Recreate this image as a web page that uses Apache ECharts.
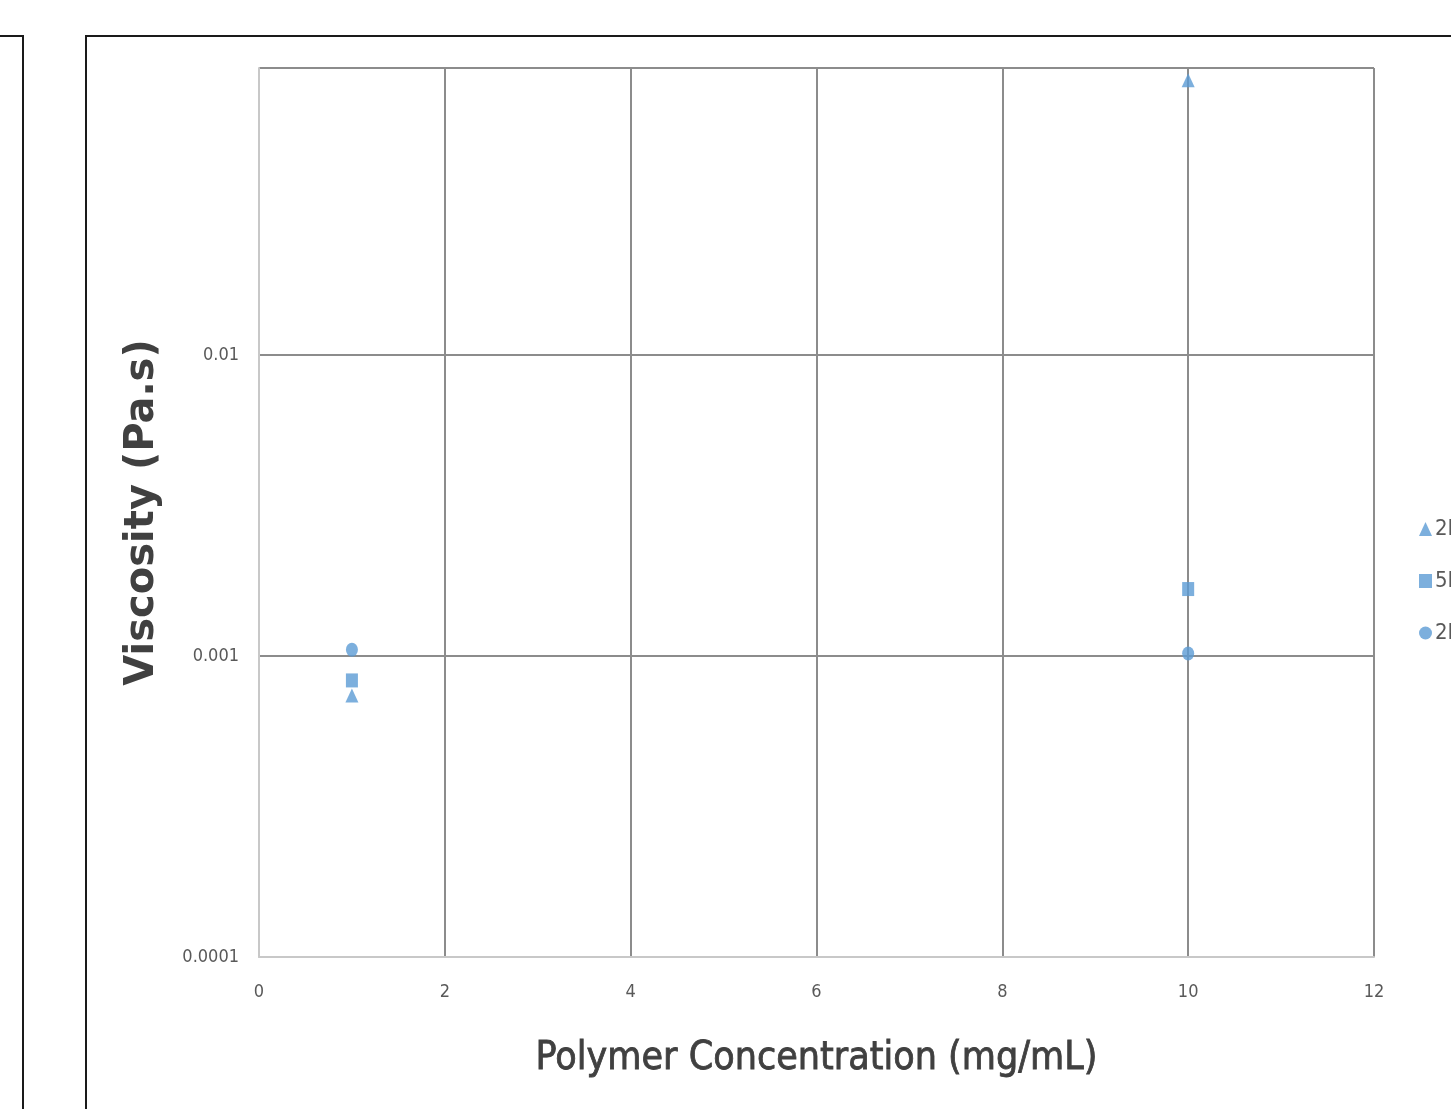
<!DOCTYPE html>
<html><head><meta charset="utf-8">
<script src="https://cdn.jsdelivr.net/npm/echarts@6/dist/echarts.min.js"></script>
<style>html,body{margin:0;padding:0;background:#fff}#c{width:1451px;height:1109px}</style>
</head><body><div id="c"></div>
<script>
const concentrations = [1, 10];
const seriesNames = ['2K PEG', '5K PEG', '2K PLA'];
const values2K = [0.00074, 0.082];
const values5K = [0.00083, 0.00167];
const values2Kb = [0.00105, 0.00102];
const xTicks = [0, 2, 4, 6, 8, 10, 12];
const yTickLabels = ['0.0001', '0.001', '0.01'];

const narrow = '"DejaVu Sans Condensed", "Liberation Sans Narrow", sans-serif';
const blue = '#5B9BD5';
const toPts = v => concentrations.map((c, i) => [c, v[i]]);

const chart = echarts.init(document.getElementById('c'), null, {renderer: 'canvas'});
chart.setOption({
  animation: false,
  backgroundColor: '#fff',
  grid: {left: 259, top: 68, right: 77, bottom: 152, containLabel: false},
  xAxis: {
    type: 'value', min: xTicks[0], max: xTicks[xTicks.length - 1], interval: 2,
    name: 'Polymer Concentration (mg/mL)', nameLocation: 'middle', nameGap: 82,
    nameTextStyle: {fontFamily: narrow, fontSize: 39, fontWeight: 'normal', color: '#404040', textBorderColor: '#404040', textBorderWidth: 0.8},
    axisLine: {show: true, lineStyle: {color: '#c8c8c8', width: 2}},
    axisTick: {show: false},
    axisLabel: {fontFamily: narrow, fontSize: 18, color: '#595959', margin: 26},
    splitLine: {show: true, lineStyle: {color: '#8c8c8c', width: 2}}
  },
  yAxis: {
    type: 'log', logBase: 10, min: 0.0001, max: 0.09,
    name: 'Viscosity (Pa.s)', nameLocation: 'middle', nameGap: 96,
    nameTextStyle: {fontFamily: '"DejaVu Sans", sans-serif', fontWeight: 'bold', fontSize: 40, color: '#404040'},
    axisLine: {show: true, lineStyle: {color: '#c8c8c8', width: 2}},
    axisTick: {show: false},
    axisLabel: {
      fontFamily: narrow, fontSize: 18, color: '#595959', margin: 20, showMaxLabel: false,
      formatter: v => {
        const e = Math.round(Math.log10(v));
        if (Math.abs(Math.log10(v) - e) > 1e-6) return '';
        const s = yTickLabels.find(t => Math.abs(parseFloat(t) - v) / v < 1e-6);
        return s || '';
      }
    },
    splitLine: {show: true, lineStyle: {color: '#8c8c8c', width: 2}}
  },
  legend: {
    orient: 'vertical', left: 1419, top: 518, padding: 0, itemGap: 30, itemWidth: 13, itemHeight: 14,
    textStyle: {fontFamily: narrow, fontSize: 22, color: '#595959', padding: [0, 0, 0, -2]},
    data: seriesNames
  },
  graphic: [
    {type: 'rect', shape: {x: 86, y: 36, width: 1400, height: 1100}, style: {fill: 'none', stroke: '#1a1a1a', lineWidth: 2}, z: -1},
    {type: 'rect', shape: {x: -20, y: 36, width: 43, height: 1100}, style: {fill: 'none', stroke: '#1a1a1a', lineWidth: 2}, z: -1}
  ],
  series: [
    {name: seriesNames[0], type: 'scatter', symbol: 'triangle', symbolSize: [13, 14], itemStyle: {color: blue}, data: toPts(values2K)},
    {name: seriesNames[1], type: 'scatter', symbol: 'rect', symbolSize: [12, 14], itemStyle: {color: blue}, data: toPts(values5K)},
    {name: seriesNames[2], type: 'scatter', symbol: 'circle', symbolSize: [12, 14], itemStyle: {color: blue}, data: toPts(values2Kb)}
  ]
});
</script></body></html>
